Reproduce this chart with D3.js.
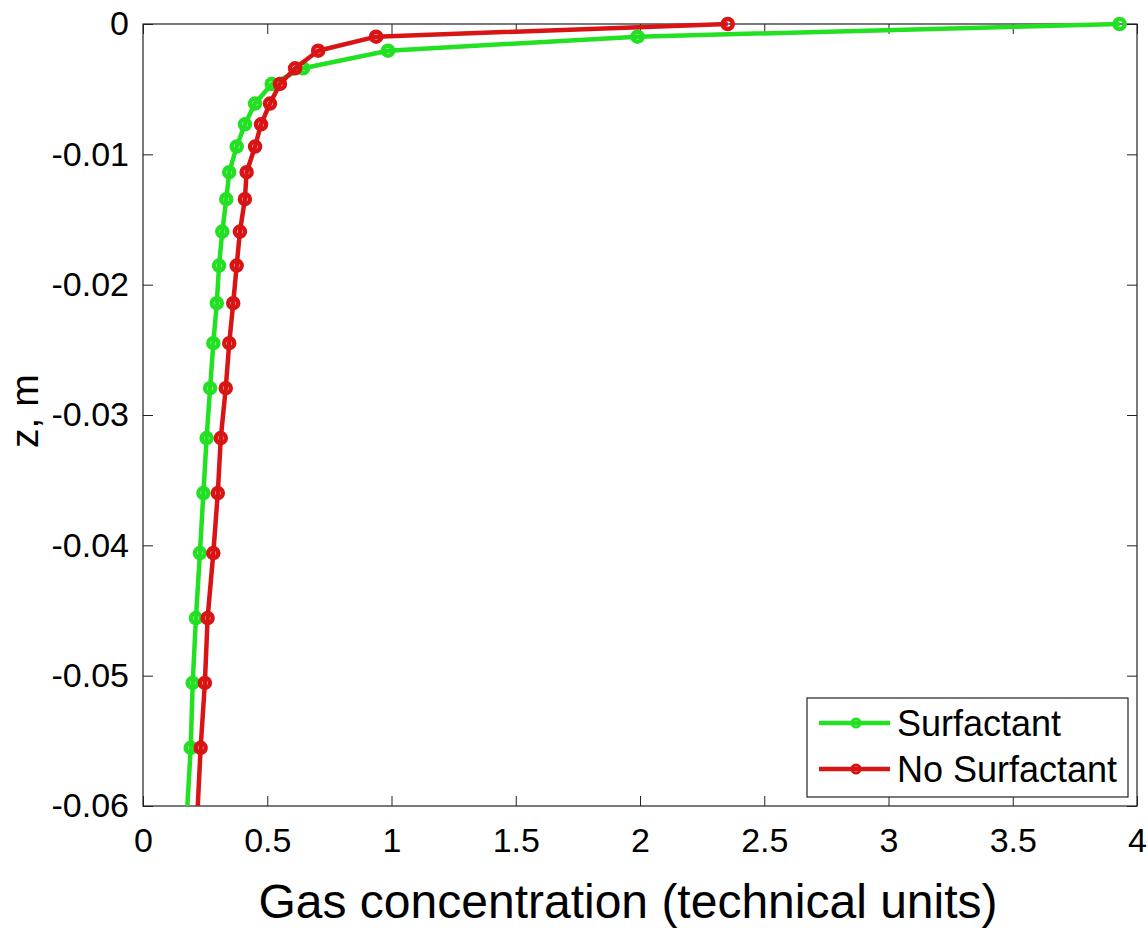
<!DOCTYPE html>
<html>
<head>
<meta charset="utf-8">
<script src="https://cdn.jsdelivr.net/npm/d3@7"></script>
<style>
  html, body { margin: 0; padding: 0; background: #fff; }
  svg { display: block; font-family: Arial, "Liberation Sans", Helvetica, sans-serif; }
</style>
</head>
<body>
<div id="chart"></div>
<script>
(function () {
  'use strict';

  // Depth grid (m), shared by both profiles
  const Z = [0, -0.00097, -0.00205, -0.0034, -0.0046, -0.0061, -0.0077, -0.0094,
    -0.01137, -0.01344, -0.01593, -0.01853, -0.02142, -0.02449, -0.02794,
    -0.03177, -0.03599, -0.04059, -0.04558, -0.05056, -0.05554, -0.0605];

  // Gas concentration (technical units)
  const SURFACTANT = [3.93, 1.99, 0.986, 0.644, 0.518, 0.451, 0.410, 0.377,
    0.347, 0.335, 0.319, 0.306, 0.297, 0.283, 0.270,
    0.256, 0.243, 0.229, 0.213, 0.200, 0.192, 0.177];
  const NO_SURFACTANT = [2.353, 0.938, 0.705, 0.612, 0.551, 0.511, 0.475, 0.451,
    0.417, 0.410, 0.390, 0.377, 0.363, 0.347, 0.333,
    0.313, 0.301, 0.283, 0.260, 0.249, 0.232, 0.219];

  const X_TICKS = [0, 0.5, 1, 1.5, 2, 2.5, 3, 3.5, 4];
  const Y_TICKS = [0, -0.01, -0.02, -0.03, -0.04, -0.05, -0.06];

  const SERIES = [
    { name: 'Surfactant',    values: SURFACTANT,    color: '#22e022' },
    { name: 'No Surfactant', values: NO_SURFACTANT, color: '#d81414' },
  ];

  const W = 1148, H = 930;
  const margin = { top: 24, right: 11, bottom: 124, left: 143 };
  const w = W - margin.left - margin.right;
  const h = H - margin.top - margin.bottom;
  const AXIS = '#222';
  const TICK_LEN = 10;

  const svg = d3.select('#chart').append('svg')
    .attr('width', W).attr('height', H);

  const g = svg.append('g').attr('transform', `translate(${margin.left},${margin.top})`);

  const x = d3.scaleLinear().domain([0, 4]).range([0, w]);
  const y = d3.scaleLinear().domain([-0.06, 0]).range([h, 0]);

  // Clip for lines (open on top so the surface segment is not cut)
  svg.append('defs').append('clipPath').attr('id', 'plot-clip')
    .append('rect').attr('x', 0).attr('y', -10).attr('width', w).attr('height', h + 10);

  // Ticks inward on all four sides (MATLAB box style)
  const fmt = d => (d === 0 ? '0' : String(d));
  g.append('g').attr('transform', `translate(0,${h})`)
    .call(d3.axisBottom(x).tickValues(X_TICKS).tickSizeInner(-TICK_LEN).tickSizeOuter(0).tickPadding(22).tickFormat(fmt));
  g.append('g')
    .call(d3.axisTop(x).tickValues(X_TICKS).tickSizeInner(-TICK_LEN).tickSizeOuter(0).tickFormat(''));
  g.append('g')
    .call(d3.axisLeft(y).tickValues(Y_TICKS).tickSizeInner(-TICK_LEN).tickSizeOuter(0).tickPadding(14).tickFormat(fmt));
  g.append('g').attr('transform', `translate(${w},0)`)
    .call(d3.axisRight(y).tickValues(Y_TICKS).tickSizeInner(-TICK_LEN).tickSizeOuter(0).tickFormat(''));

  g.selectAll('.domain').remove();
  g.selectAll('.tick line').attr('stroke', AXIS).attr('stroke-width', 1);
  g.selectAll('.tick text').attr('fill', '#000').attr('font-size', 34)
    .attr('font-family', 'Arial, "Liberation Sans", sans-serif');

  // Box
  g.append('rect').attr('x', 0).attr('y', 0).attr('width', w).attr('height', h)
    .attr('fill', 'none').attr('stroke', AXIS).attr('stroke-width', 1.2);

  // Series
  const line = d3.line()
    .x(d => x(d.c))
    .y(d => y(d.z));

  SERIES.forEach(s => {
    const pts = s.values.map((c, i) => ({ c, z: Z[i] }));
    g.append('path').datum(pts)
      .attr('clip-path', 'url(#plot-clip)')
      .attr('fill', 'none').attr('stroke', s.color)
      .attr('stroke-width', 4.5).attr('stroke-linejoin', 'round')
      .attr('d', line);
    g.selectAll(null).data(pts.filter(d => d.z >= -0.06)).enter()
      .append('circle')
      .attr('cx', d => x(d.c)).attr('cy', d => y(d.z)).attr('r', 5)
      .attr('fill', 'none').attr('stroke', s.color).attr('stroke-width', 4.5);
  });

  // Axis labels
  svg.append('text')
    .attr('x', margin.left + x(2) - 12).attr('y', 918)
    .attr('text-anchor', 'middle').attr('font-size', 48).attr('fill', '#000')
    .text('Gas concentration (technical units)');
  svg.append('text')
    .attr('transform', `translate(38,${margin.top + y(-0.0297)}) rotate(-90)`)
    .attr('text-anchor', 'middle').attr('font-size', 39).attr('fill', '#000')
    .text('z, m');

  // Legend
  const lg = svg.append('g').attr('transform', 'translate(807,698)');
  lg.append('rect').attr('width', 321).attr('height', 99)
    .attr('fill', '#fff').attr('stroke', AXIS).attr('stroke-width', 1.2);
  SERIES.forEach((s, i) => {
    const ly = 25 + i * 46;
    lg.append('line').attr('x1', 12).attr('x2', 83).attr('y1', ly).attr('y2', ly)
      .attr('stroke', s.color).attr('stroke-width', 4.5);
    lg.append('circle').attr('cx', 49).attr('cy', ly).attr('r', 4)
      .attr('fill', 'none').attr('stroke', s.color).attr('stroke-width', 3);
    lg.append('text').attr('x', 90).attr('y', ly).attr('dy', '0.36em')
      .attr('font-size', 36).attr('fill', '#000')
      .text(s.name);
  });
})();
</script>
</body>
</html>
